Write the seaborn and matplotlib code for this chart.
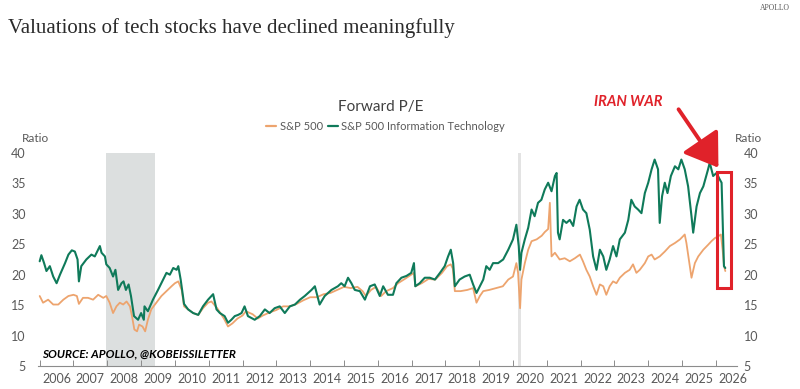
import matplotlib

matplotlib.use("Agg")

import matplotlib.pyplot as plt
import pandas as pd
import seaborn as sns
from matplotlib.patches import Rectangle, FancyArrowPatch

# Forward P/E, S&P 500 Information Technology (decimal years)
it_dates = [
    2006.00, 2006.05, 2006.13, 2006.20, 2006.30, 2006.40, 2006.50, 2006.60, 2006.75,
    2006.85, 2006.95, 2007.04, 2007.12, 2007.16, 2007.23, 2007.38, 2007.53, 2007.63,
    2007.78, 2007.83, 2007.93, 2007.97, 2008.07, 2008.17, 2008.24, 2008.32, 2008.42,
    2008.48, 2008.55, 2008.63, 2008.70, 2008.79, 2008.91, 2009.00, 2009.08, 2009.10,
    2009.20, 2009.35, 2009.50, 2009.65, 2009.75, 2009.85, 2009.95, 2010.05, 2010.10,
    2010.17, 2010.27, 2010.39, 2010.54, 2010.69, 2010.83, 2010.98, 2011.08, 2011.13,
    2011.23, 2011.33, 2011.47, 2011.57, 2011.67, 2011.77, 2011.87, 2011.97, 2012.06,
    2012.16, 2012.36, 2012.51, 2012.66, 2012.80, 2012.95, 2013.10, 2013.25, 2013.40,
    2013.55, 2013.70, 2013.84, 2014.04, 2014.14, 2014.28, 2014.43, 2014.63, 2014.82,
    2014.92, 2015.02, 2015.12, 2015.22, 2015.32, 2015.47, 2015.62, 2015.77, 2015.91,
    2016.06, 2016.16, 2016.30, 2016.45, 2016.55, 2016.70, 2016.85, 2016.99, 2017.07,
    2017.11, 2017.24, 2017.39, 2017.54, 2017.69, 2017.84, 2017.98, 2018.08, 2018.16,
    2018.23, 2018.28, 2018.42, 2018.57, 2018.72, 2018.82, 2018.92, 2019.02, 2019.12,
    2019.21, 2019.31, 2019.41, 2019.56, 2019.71, 2019.86, 2020.00, 2020.10, 2020.17,
    2020.21, 2020.25, 2020.35, 2020.45, 2020.55, 2020.64, 2020.74, 2020.84, 2020.94,
    2021.04, 2021.14, 2021.24, 2021.29, 2021.33, 2021.38, 2021.48, 2021.58, 2021.68,
    2021.78, 2021.88, 2021.97, 2022.07, 2022.17, 2022.27, 2022.37, 2022.47, 2022.57,
    2022.67, 2022.76, 2022.86, 2022.96, 2023.06, 2023.16, 2023.31, 2023.41, 2023.50,
    2023.60, 2023.70, 2023.80, 2023.90, 2024.00, 2024.10, 2024.19, 2024.29, 2024.34,
    2024.41, 2024.49, 2024.57, 2024.67, 2024.79, 2024.89, 2024.98, 2025.08, 2025.18,
    2025.28, 2025.33, 2025.43, 2025.53, 2025.63, 2025.77, 2025.82, 2025.92, 2026.02,
    2026.12, 2026.17, 2026.21, 2026.24, 2026.28,
]
it_pe = [
    22.2, 23.2, 21.9, 20.6, 21.4, 19.7, 18.6, 20.0, 21.9,
    23.3, 24.0, 23.8, 22.5, 18.9, 21.4, 22.5, 23.3, 23.0,
    24.7, 23.6, 23.0, 21.7, 21.1, 19.7, 20.8, 17.5, 18.6,
    18.9, 17.5, 18.4, 16.5, 13.2, 12.6, 13.7, 12.6, 14.8,
    14.0, 15.9, 17.5, 19.2, 20.3, 20.0, 21.1, 20.8, 21.4,
    19.2, 15.2, 14.3, 13.7, 13.4, 14.8, 15.9, 16.5, 16.8,
    14.3, 13.7, 13.2, 12.1, 12.6, 13.2, 13.4, 13.7, 14.8,
    13.2, 12.6, 13.2, 14.3, 13.7, 14.5, 14.8, 13.7, 14.8,
    15.1, 15.9, 16.5, 17.5, 18.1, 15.1, 16.5, 17.5, 18.1,
    18.6, 18.1, 19.5, 18.6, 17.5, 17.3, 15.9, 18.1, 18.4,
    16.5, 18.1, 16.7, 16.7, 18.6, 19.5, 19.8, 20.3, 21.9,
    18.1, 18.6, 19.5, 19.5, 19.2, 20.3, 21.4, 23.0, 24.1,
    21.9, 18.1, 19.2, 19.7, 20.0, 18.4, 17.0, 18.1, 19.2,
    21.4, 20.8, 21.9, 21.9, 22.5, 24.1, 25.8, 28.2, 24.7,
    20.8, 23.6, 25.8, 27.7, 30.7, 29.6, 31.8, 32.3, 34.0,
    35.1, 33.7, 36.2, 36.7, 26.9, 25.8, 29.0, 28.5, 29.0,
    28.0, 31.2, 32.3, 30.7, 30.1, 27.4, 23.0, 20.8, 24.1,
    23.0, 20.8, 22.5, 24.7, 23.0, 25.8, 26.9, 29.0, 32.3,
    31.2, 30.7, 30.1, 33.4, 35.1, 37.3, 38.9, 37.3, 28.5,
    32.9, 35.1, 33.4, 36.2, 37.8, 37.3, 38.9, 37.3, 34.5,
    29.6, 26.9, 31.2, 33.4, 34.5, 37.3, 38.4, 36.2, 36.7,
    35.6, 35.1, 26.9, 21.4, 21.1,
]

# Forward P/E, S&P 500
spx_dates = [
    2006.00, 2006.10, 2006.25, 2006.40, 2006.55, 2006.70, 2006.85, 2007.00, 2007.10,
    2007.16, 2007.28, 2007.43, 2007.58, 2007.73, 2007.88, 2007.97, 2008.07, 2008.17,
    2008.27, 2008.37, 2008.47, 2008.57, 2008.67, 2008.73, 2008.80, 2008.88, 2008.94,
    2009.04, 2009.12, 2009.20, 2009.30, 2009.45, 2009.60, 2009.75, 2009.90, 2010.00,
    2010.10, 2010.20, 2010.27, 2010.39, 2010.54, 2010.69, 2010.83, 2010.98, 2011.08,
    2011.25, 2011.45, 2011.57, 2011.70, 2011.85, 2012.00, 2012.10, 2012.30, 2012.45,
    2012.60, 2012.80, 2013.00, 2013.20, 2013.40, 2013.60, 2013.80, 2014.00, 2014.20,
    2014.40, 2014.60, 2014.80, 2015.00, 2015.20, 2015.40, 2015.55, 2015.65, 2015.80,
    2015.95, 2016.10, 2016.25, 2016.45, 2016.60, 2016.80, 2016.99, 2017.07, 2017.11,
    2017.30, 2017.50, 2017.70, 2017.90, 2018.05, 2018.16, 2018.22, 2018.28, 2018.45,
    2018.65, 2018.82, 2018.92, 2019.02, 2019.12, 2019.30, 2019.50, 2019.70, 2019.86,
    2020.00, 2020.10, 2020.15, 2020.21, 2020.25, 2020.35, 2020.45, 2020.55, 2020.70,
    2020.85, 2020.94, 2021.04, 2021.09, 2021.14, 2021.24, 2021.38, 2021.53, 2021.68,
    2021.83, 2021.98, 2022.07, 2022.17, 2022.27, 2022.37, 2022.47, 2022.57, 2022.67,
    2022.76, 2022.86, 2022.96, 2023.06, 2023.16, 2023.31, 2023.45, 2023.55, 2023.65,
    2023.75, 2023.90, 2024.00, 2024.10, 2024.19, 2024.34, 2024.49, 2024.64, 2024.79,
    2024.94, 2025.08, 2025.13, 2025.23, 2025.28, 2025.38, 2025.48, 2025.63, 2025.77,
    2025.87, 2025.97, 2026.07, 2026.15, 2026.20, 2026.24, 2026.28,
]
spx_pe = [
    16.5, 15.4, 15.9, 15.1, 15.1, 15.9, 16.5, 16.7, 16.5,
    15.2, 16.2, 16.2, 15.9, 16.7, 16.2, 16.5, 15.4, 13.7,
    14.8, 15.4, 15.1, 15.6, 14.8, 13.2, 11.0, 10.7, 11.8,
    11.5, 10.7, 12.6, 14.3, 15.4, 16.5, 17.3, 18.1, 18.6,
    18.9, 17.5, 14.8, 14.3, 13.7, 13.4, 14.5, 15.4, 15.6,
    14.5, 12.8, 11.5, 12.0, 12.8, 13.3, 14.0, 13.5, 12.8,
    13.3, 13.8, 14.2, 14.8, 14.8, 15.2, 15.8, 16.3, 16.3,
    16.8, 17.0, 17.5, 18.0, 17.8, 18.0, 17.3, 16.5, 17.5,
    18.0, 16.5, 17.3, 17.8, 18.6, 19.3, 20.0, 20.3, 18.1,
    18.6, 19.3, 19.2, 20.3, 21.4, 21.7, 21.0, 17.3, 17.3,
    17.5, 17.8, 15.4, 16.5, 17.3, 17.5, 17.8, 18.1, 19.2,
    19.7, 21.9, 20.3, 14.5, 19.2, 21.9, 24.1, 25.5, 25.8,
    26.4, 27.0, 27.5, 31.8, 23.0, 23.6, 22.5, 22.7, 22.2,
    22.7, 23.3, 22.2, 20.8, 19.7, 18.1, 16.7, 18.4, 18.1,
    16.7, 18.1, 18.9, 18.6, 19.5, 20.3, 20.8, 21.7, 20.3,
    20.8, 21.9, 23.0, 23.3, 22.5, 23.0, 23.8, 24.7, 25.2,
    25.8, 26.6, 25.2, 21.4, 19.5, 21.9, 23.0, 24.1, 24.9,
    25.5, 26.0, 26.3, 26.6, 24.1, 21.5, 20.6,
]

year_ticks = list(range(2006, 2027))
y_ticks = [5, 10, 15, 20, 25, 30, 35, 40]

GREEN = "#0f7a5a"
ORANGE = "#eda46e"
RED = "#e0222a"
GREY_TEXT = "#595959"

sns.set_theme(style="white")
plt.rcParams["font.family"] = ["Lato", "DejaVu Sans"]

it_df = pd.DataFrame({"date": it_dates, "pe": it_pe})
spx_df = pd.DataFrame({"date": spx_dates, "pe": spx_pe})

fig = plt.figure(figsize=(8.0, 3.89), dpi=100)
ax = fig.add_axes([0.0475, 0.059, 0.8735, 0.548])

# recession shading and covid marker
ax.axvspan(2007.95, 2009.40, color="#dcdfdf", lw=0, zorder=0)
ax.axvspan(2020.14, 2020.24, color="#e3e3e3", lw=0, zorder=0)

sns.lineplot(data=spx_df, x="date", y="pe", color=ORANGE, lw=1.3, ax=ax,
             label="S&P 500", sort=False)
sns.lineplot(data=it_df, x="date", y="pe", color=GREEN, lw=1.5, ax=ax,
             label="S&P 500 Information Technology", sort=False)

ax.set_xlim(2005.95, 2026.62)
ax.set_ylim(5, 40)
ax.set_xlabel("")
ax.set_ylabel("")

for side in ["top", "right", "left"]:
    ax.spines[side].set_visible(False)
ax.spines["bottom"].set_color("#8c8c8c")
ax.spines["bottom"].set_linewidth(0.8)

ax.set_xticks(year_ticks)
ax.set_xticklabels([])
ax.set_xticks([y + 0.5 for y in year_ticks], minor=True)
ax.set_xticklabels([str(y) for y in year_ticks], minor=True)
ax.tick_params(axis="x", which="major", direction="in", length=4, width=0.7,
               color="#8c8c8c", bottom=True)
ax.tick_params(axis="x", which="minor", length=0, labelsize=9,
               labelcolor=GREY_TEXT, pad=5)

ax.set_yticks(y_ticks)
ax.tick_params(axis="y", length=0, labelsize=9, labelcolor=GREY_TEXT, pad=9)
ax2 = ax.twinx()
ax2.set_ylim(ax.get_ylim())
ax2.set_yticks(y_ticks)
ax2.tick_params(axis="y", length=0, labelsize=9, labelcolor=GREY_TEXT, pad=5)
for side in ["top", "right", "left", "bottom"]:
    ax2.spines[side].set_visible(False)

leg = ax.legend(loc="center", bbox_to_anchor=(0.482, 0.676),
                bbox_transform=fig.transFigure, ncol=2, frameon=False,
                fontsize=8, handlelength=0.9, handletextpad=0.35,
                columnspacing=0.4, labelcolor=GREY_TEXT)
for line in leg.get_lines():
    line.set_linewidth(1.6)

# red highlight box around the last weeks
ax.add_patch(Rectangle((2026.03, 17.8), 0.41, 19.1, fill=False, edgecolor=RED,
                       lw=2.2, clip_on=False, zorder=5))
arrow = FancyArrowPatch((677, 389 - 107), (720, 389 - 170),
                        transform=None, arrowstyle="-|>,head_length=9,head_width=6",
                        color=RED, lw=2.8, mutation_scale=2.2, zorder=6)
fig.patches.append(arrow)

fig.text(8 / 800, 1 - 28 / 389, "Valuations of tech stocks have declined meaningfully",
         family=["Liberation Serif", "DejaVu Serif"], fontsize=15, color="#2b2b2b",
         va="center", ha="left")
fig.text(790 / 800, 1 - 8 / 389, "APOLLO", family=["Liberation Serif", "DejaVu Serif"],
         fontsize=5.5, color="#555555", va="center", ha="right")
fig.text(381 / 800, 1 - 107 / 389, "Forward P/E", fontsize=11, color="#404040",
         va="center", ha="center")
fig.text(22 / 800, 1 - 139 / 389, "Ratio", fontsize=8.5, color=GREY_TEXT,
         va="center", ha="left")
fig.text(735 / 800, 1 - 139 / 389, "Ratio", fontsize=8.5, color=GREY_TEXT,
         va="center", ha="left")
fig.text(628 / 800, 1 - 102 / 389, "IRAN WAR", fontsize=10.5, color=RED,
         weight="bold", style="italic", va="center", ha="center")
fig.text(42 / 800, 1 - 354 / 389, "SOURCE: APOLLO, @KOBEISSILETTER", fontsize=8.5,
         color="black", weight="bold", style="italic", va="center", ha="left")

fig.savefig("out.png", dpi=100)
